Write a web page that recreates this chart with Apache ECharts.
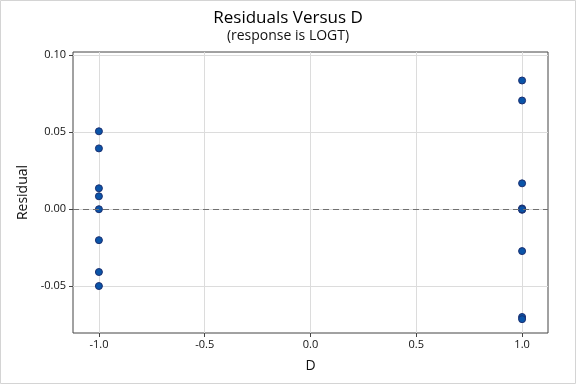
<!DOCTYPE html>
<html><head><meta charset="utf-8">
<script src="https://cdn.jsdelivr.net/npm/echarts@6/dist/echarts.min.js"></script>
<style>html,body{margin:0;padding:0;background:#fff}#c{width:576px;height:384px}</style>
</head><body><div id="c"></div>
<script>
const dValues = [-1,-1,-1,-1,-1,-1,-1,-1, 1,1,1,1,1,1,1,1,1];
const residuals = [0.0506,0.0395,0.0136,0.0084,0.0000,-0.0201,-0.0408,-0.0499,
                   0.0836,0.0706,0.0168,0.0005,-0.0004,-0.0272,-0.0700,-0.0714,0.0000];
const xTicks = [-1.0,-0.5,0.0,0.5,1.0];
const yTicks = [-0.05,0.00,0.05,0.10];
const titleText = 'Residuals Versus D';
const subText = '(response is LOGT)';

const points = dValues.map((d,i)=>[d,residuals[i]]);
const font = '"Open Sans", "Noto Sans", sans-serif';
const chart = echarts.init(document.getElementById('c'), null, {renderer:'canvas'});
chart.setOption({
  animation:false,
  backgroundColor:'#fff',
  title:{text:titleText, subtext:subText, left:'center', top:5, itemGap:2,
    textStyle:{fontFamily:font, fontSize:17, fontWeight:500, color:'#000'},
    subtextStyle:{fontFamily:font, fontSize:14, color:'#111'}},
  grid:{left:73, top:52, width:475, height:281, show:true, borderColor:'#444', borderWidth:1, backgroundColor:'#fff'},
  xAxis:{type:'value', min:-1.1225, max:1.1225, name:'D', nameLocation:'middle', nameGap:26,
    nameTextStyle:{fontFamily:font, fontSize:14, color:'#111'},
    axisLine:{show:false, onZero:false}, axisTick:{show:true, length:4, customValues:xTicks, lineStyle:{color:'#444'}},
    axisLabel:{customValues:xTicks, fontFamily:font, fontSize:11, color:'#111', margin:6, formatter:v=>v.toFixed(1)},
    splitLine:{show:true, lineStyle:{color:'#dcdcdc', width:1}}},
  yAxis:{type:'value', min:-0.0804, max:0.1021, name:'Residual', nameLocation:'middle', nameGap:42,
    nameTextStyle:{fontFamily:font, fontSize:14, color:'#111'},
    axisLine:{show:false, onZero:false}, axisTick:{show:true, length:4, customValues:yTicks, lineStyle:{color:'#444'}},
    axisLabel:{customValues:yTicks, fontFamily:font, fontSize:11, color:'#111', margin:7, formatter:v=>v.toFixed(2)},
    splitLine:{show:true, lineStyle:{color:'#dcdcdc', width:1}}},
  graphic:[{type:'rect', shape:{x:0.5,y:0.5,width:575,height:383}, style:{fill:null, stroke:'#d4d4d4', lineWidth:1}, silent:true}],
  series:[{type:'scatter', data:points, symbol:'circle', symbolSize:7,
    itemStyle:{color:'#0a54a8', borderColor:'#1c2f70', borderWidth:1, opacity:1},
    markLine:{silent:true, symbol:'none', label:{show:false},
      lineStyle:{color:'#707070', type:[6,4], width:1},
      data:[{yAxis:0}]}}]
});
</script></body></html>
